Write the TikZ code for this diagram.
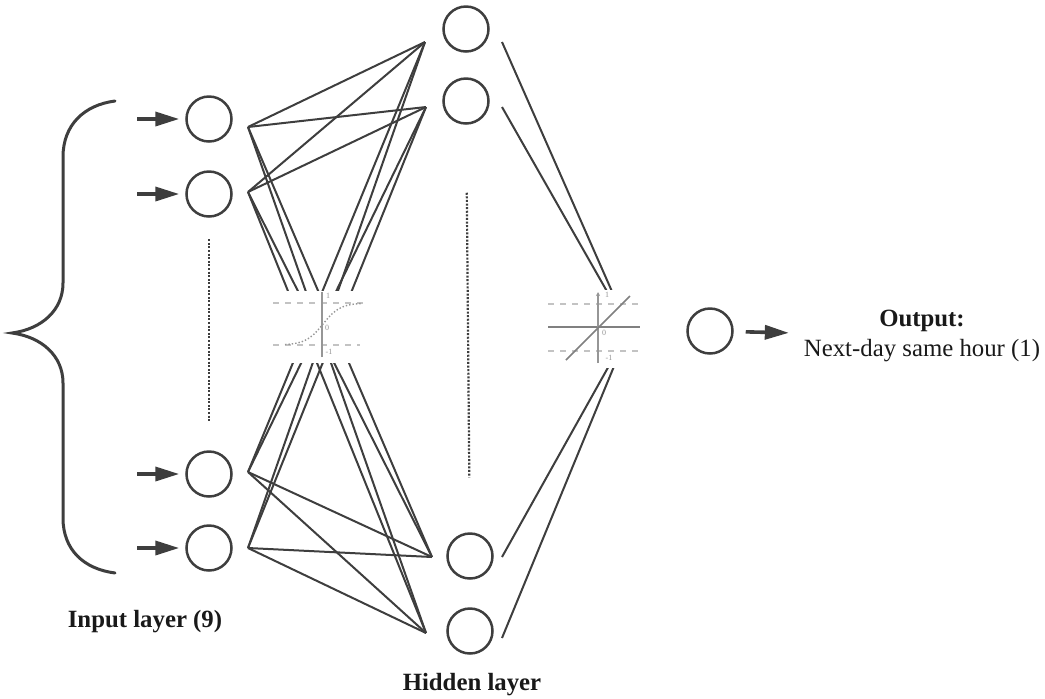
\documentclass[tikz,border=0pt]{standalone}
\usepackage{fontspec}
\setmainfont{Liberation Serif}
\usetikzlibrary{arrows.meta,positioning}
\definecolor{inkgray}{RGB}{62,62,62}
\definecolor{plotgray}{RGB}{150,150,150}
\definecolor{gridgray}{RGB}{195,195,195}
\definecolor{textblack}{RGB}{25,25,25}

\begin{document}
\begin{tikzpicture}[
  x=0.5pt, y=-0.5pt,
  font=\fontsize{12.4}{14}\selectfont,
  neuron/.style={circle, draw=inkgray, line width=1.25pt, minimum size=22.5pt, inner sep=0pt},
  link/.style={draw=inkgray, line width=1pt},
  feed/.style={-{Triangle[length=12pt,width=7pt]}, line width=1.8pt, draw=inkgray},
  gap/.style={draw=inkgray, line width=1.1pt, dash pattern=on 1pt off 0.8pt},
  bracket/.style={draw=inkgray, line width=1.5pt, line cap=round},
  guide/.style={draw=gridgray, line width=0.6pt, dash pattern=on 3pt off 3pt},
  axis/.style={draw=plotgray, line width=0.6pt},
  tick/.style={font=\fontsize{4}{4}\selectfont, text=plotgray, inner sep=0pt},
  layername/.style={font=\fontsize{12.4}{14}\selectfont\bfseries, text=textblack}
]
\useasboundingbox (0,0) rectangle (1045,698);

% neurons
\node[neuron] (in1) at (209,119) {};
\node[neuron] (in2) at (209,194) {};
\node[neuron] (in3) at (209,474) {};
\node[neuron] (in4) at (209,548) {};
\node[neuron] (hid1) at (466,29) {};
\node[neuron] (hid2) at (466,101) {};
\node[neuron] (hid3) at (470,556) {};
\node[neuron] (hid4) at (470,631) {};
\node[neuron] (out) at (710,331) {};

% ends of the weight lines
\coordinate (a1) at (248,127);
\coordinate (a2) at (248,192);
\coordinate (a3) at (248,472);
\coordinate (a4) at (248,548);
\coordinate (b1) at (425,42);
\coordinate (b2) at (426,107);
\coordinate (b3) at (432,557);
\coordinate (b4) at (426,633);
\coordinate (c1) at (502,42);
\coordinate (c2) at (502,107);
\coordinate (c3) at (502,557);
\coordinate (c4) at (502,638);
\coordinate (lin) at (629,330);

\foreach \i in {1,...,4}
  \foreach \j in {1,...,4}
    \draw[link] (a\i) -- (b\j);
\foreach \j in {1,...,4}
  \draw[link] (c\j) -- (lin);

% inputs
\foreach \i in {1,...,4}
  \draw[feed, shorten >=3pt] ([xshift=-36pt]in\i.center) -- (in\i);

\draw[gap, shorten <=10.75pt, shorten >=14.25pt] (in2) -- (in3);
\draw[gap, shorten <=34pt, shorten >=27.5pt] (hid2) -- (hid3);

% brace over the inputs
\draw[bracket] (115,101) .. controls (84,105) and (63,125) .. (63,157)
  -- (63,283) .. controls (63,310) and (42,329) .. (12,333)
  .. controls (42,337) and (63,356) .. (63,383)
  -- (63,518) .. controls (63,550) and (84,569) .. (115,573);

% tansig
\fill[white] (262,291) rectangle (378,363);
\draw[guide] (273,303) -- (363,303);
\draw[guide] (273,345) -- (360,345);
\draw[axis] (322,357) -- (322,292);
\draw[plotgray, line width=0.7pt, densely dotted] plot[domain=-1:1, samples=40] ({323+38*\x},{324-21*tanh(2.2*\x)});
\node[tick] (s1) at (328,296) {1};
\node[tick] (s0) at (327,328) {0};
\node[tick] (sm) at (329,352) {-1};

% purelin
\fill[white] (545,290) rectangle (640,368);
\draw[guide] (548,304) -- (640,304);
\draw[guide] (548,351) -- (640,351);
\draw[axis, draw=gray, line width=0.9pt] (548,327) -- (640,327);
\draw[axis, -{Stealth[length=2pt,width=2pt]}] (598,363) -- (598,292);
\draw[axis, draw=gray, line width=0.8pt] (566,360) -- (630,296);
\node[tick] (l1) at (607,295) {1};
\node[tick] (l0) at (604,333) {0};
\node[tick] (lm) at (609,358) {-1};

% labels
\node[align=center, text=textblack] (res) at (922,336) {\textbf{Output:}\\[1pt]Next-day same hour (1)};
\draw[feed, shorten <=6pt, shorten >=4pt] (out) -- (res);
\node[layername] (inlabel) at (145,622) {Input layer (9)};
\node[layername] (hidlabel) at (472,685) {Hidden layer};

\end{tikzpicture}
\end{document}
